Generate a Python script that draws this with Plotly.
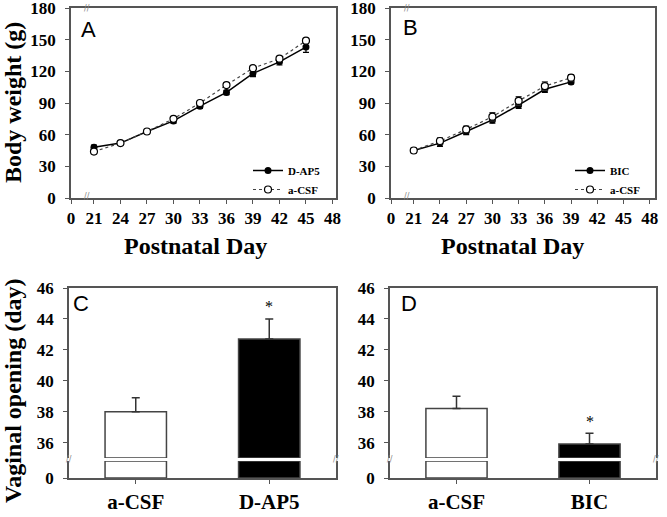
import plotly.graph_objects as go

# body weight data (panel A / B)
days_a = [21, 24, 27, 30, 33, 36, 39, 42, 45]
dap5_weight = [48, 52, 63, 73, 87, 100, 118, 129, 143]
dap5_err = [2, 1, 1, 2, 2, 2, 3, 3, 5]
acsf_a_weight = [44, 52, 63, 75, 90, 107, 123, 132, 149]
acsf_a_err = [2, 1, 1, 2, 2, 2, 2, 2, 2]

days_b = [21, 24, 27, 30, 33, 36, 39]
bic_weight = [45, 52, 63, 74, 88, 103, 110]
bic_err = [2, 3, 3, 3, 3, 3, 2]
acsf_b_weight = [45, 54, 65, 77, 92, 106, 114]
acsf_b_err = [2, 3, 3, 4, 4, 4, 3]

# vaginal opening data (panel C / D)
cats_c = ["a-CSF", "D-AP5"]
vo_c = [38.0, 42.7]
vo_c_err = [0.9, 1.3]
cats_d = ["a-CSF", "BIC"]
vo_d = [38.2, 35.9]
vo_d_err = [0.8, 0.7]
signif_c = ["", "*"]
signif_d = ["", "*"]

x_ticks = [18.4, 21, 24, 27, 30, 33, 36, 39, 42, 45, 48]
x_labels = ["0"] + [str(t) for t in x_ticks[1:]]

W, H = 667, 517
def px(x): return x / W
def py(y): return 1 - y / H

SERIF = "Liberation Serif"
AX = "#555555"
bar_fill = ["white", "black"]

fig = go.Figure()

def line_pair(xa, ya, xs, filled, filled_err, opened, opened_err, name1, leg):
    fig.add_trace(go.Scatter(
        x=xs, y=filled, name=name1, xaxis=xa, yaxis=ya, legend=leg,
        mode="lines+markers",
        line=dict(color="black", width=1.5),
        marker=dict(symbol="circle", size=7, color="black"),
        error_y=dict(type="data", array=filled_err, color="black", thickness=1.2, width=3),
    ))
    fig.add_trace(go.Scatter(
        x=xs, y=opened, name="a-CSF", xaxis=xa, yaxis=ya, legend=leg,
        mode="lines+markers",
        line=dict(color="#444", width=1.2, dash="dot"),
        marker=dict(symbol="circle", size=7, color="white", line=dict(color="black", width=1.2)),
        error_y=dict(type="data", array=opened_err, color="#333", thickness=1.2, width=3),
    ))

line_pair("x", "y", days_a, dap5_weight, dap5_err, acsf_a_weight, acsf_a_err, "D-AP5", "legend")
line_pair("x2", "y2", days_b, bic_weight, bic_err, acsf_b_weight, acsf_b_err, "BIC", "legend2")

def bars(xlow, ylow, xup, yup, cats, vals, errs, low_top, up_base, stars):
    # lower segment of broken axis
    fig.add_trace(go.Bar(
        x=cats, y=[min(v, low_top) for v in vals], xaxis=xlow, yaxis=ylow, width=0.46,
        marker=dict(color=bar_fill, line=dict(color="#444", width=1.5)), showlegend=False,
    ))
    # upper segment
    fig.add_trace(go.Bar(
        x=cats, y=[v - up_base for v in vals], base=up_base, xaxis=xup, yaxis=yup, width=0.46,
        marker=dict(color=bar_fill, line=dict(color="#444", width=1.5)), showlegend=False,
        error_y=dict(type="data", symmetric=False, array=errs, arrayminus=[0] * len(errs),
                     color="#333", thickness=1.5, width=4),
    ))
    for c, v, e, s in zip(cats, vals, errs, stars):
        if s:
            fig.add_annotation(x=c, y=v + e, xref=xup, yref=yup, text=s, showarrow=False,
                               yshift=12, font=dict(family=SERIF, size=16, color="black"))

bars("x3", "y3", "x4", "y4", cats_c, vo_c, vo_c_err, 1, 35, signif_c)
bars("x5", "y5", "x6", "y6", cats_d, vo_d, vo_d_err, 1, 35, signif_d)

tickfont = dict(family=SERIF, size=17, color="black", weight="bold")
common_x = dict(showline=True, linecolor=AX, linewidth=1.5, ticks="outside", ticklen=4,
                tickcolor=AX, showgrid=False, zeroline=False, tickfont=tickfont,
                automargin=False, ticklabeloverflow="allow")
common_y = dict(showline=True, linecolor=AX, linewidth=1.5, mirror=True, ticks="outside",
                ticklen=4, tickcolor=AX, showgrid=False, zeroline=False, tickfont=tickfont,
                ticklabelstandoff=6, automargin=False, ticklabeloverflow="allow")

top_dom = [py(198), py(8)]
up_dom = [py(458), py(288)]
low_dom = [py(478), py(461)]
a_dom = [px(71), px(336)]
b_dom = [px(391), px(655)]
c_dom = [px(69), px(336)]
d_dom = [px(390), px(656)]

leg_font = dict(family=SERIF, size=11, color="black", weight="bold")
fig.update_layout(
    width=W, height=H, margin=dict(l=0, r=0, t=0, b=0, autoexpand=False),
    paper_bgcolor="white", plot_bgcolor="white", bargap=0.5,
    xaxis=dict(common_x, domain=a_dom, anchor="y", range=[18.4, 48.4], tickvals=x_ticks,
               ticktext=x_labels, mirror=True),
    yaxis=dict(common_y, domain=top_dom, anchor="x", range=[0, 180], dtick=30),
    xaxis2=dict(common_x, domain=b_dom, anchor="y2", range=[18.4, 48.6], tickvals=x_ticks,
                ticktext=x_labels, mirror=True),
    yaxis2=dict(common_y, domain=top_dom, anchor="x2", range=[0, 180], dtick=30),
    xaxis3=dict(common_x, domain=c_dom, anchor="y3", range=[-0.5, 1.5],
                tickfont=dict(family=SERIF, size=21, color="black", weight="bold")),
    yaxis3=dict(common_y, domain=low_dom, anchor="x3", range=[0, 1], tickvals=[0], ticktext=["0"]),
    xaxis4=dict(common_x, domain=c_dom, anchor="y4", side="top", range=[-0.5, 1.5],
                ticks="", showticklabels=False, matches="x3"),
    yaxis4=dict(common_y, domain=up_dom, anchor="x4", range=[35, 46], tickvals=[36, 38, 40, 42, 44, 46]),
    xaxis5=dict(common_x, domain=d_dom, anchor="y5", range=[-0.5, 1.5],
                tickfont=dict(family=SERIF, size=21, color="black", weight="bold")),
    yaxis5=dict(common_y, domain=low_dom, anchor="x5", range=[0, 1], tickvals=[0], ticktext=["0"]),
    xaxis6=dict(common_x, domain=d_dom, anchor="y6", side="top", range=[-0.5, 1.5],
                ticks="", showticklabels=False, matches="x5"),
    yaxis6=dict(common_y, domain=up_dom, anchor="x6", range=[35, 46], tickvals=[36, 38, 40, 42, 44, 46]),
    legend=dict(x=px(248), y=py(156), xanchor="left", yanchor="top", bgcolor="rgba(0,0,0,0)",
                font=leg_font, tracegroupgap=0, itemwidth=30),
    legend2=dict(x=px(570), y=py(156), xanchor="left", yanchor="top", bgcolor="rgba(0,0,0,0)",
                 font=leg_font, tracegroupgap=0, itemwidth=30),
)

# titles and panel letters
title_font = dict(family=SERIF, size=24, color="black", weight="bold")
def note(x, y, text, font, angle=0):
    fig.add_annotation(x=px(x), y=py(y), xref="paper", yref="paper", text=text,
                       textangle=angle, showarrow=False, font=font,
                       xanchor="center", yanchor="middle")

note(13, 103, "Body weight (g)", title_font, -90)
note(13, 391, "Vaginal opening (day)", title_font, -90)
note(195, 246, "Postnatal Day", title_font)
note(512, 246, "Postnatal Day", title_font)
for letter, lx, ly in [("A", 88, 30), ("B", 411, 28), ("C", 81, 303), ("D", 409, 303)]:
    note(lx, ly, letter, dict(family="Liberation Sans", size=22, color="black"))

# axis break marks
brk = dict(family="DejaVu Sans", size=8, color="#888")
for bx in [87, 407]:
    for by in [8, 197]:
        note(bx, by, "//", brk)
for bx in [69, 336, 390, 656]:
    note(bx, 459, "//", brk)

# the page body has a default 8px margin; drop it so the figure fills the window
fig.write_html("out.html", config={"displayModeBar": False},
               post_script="document.body.style.margin='0';")
